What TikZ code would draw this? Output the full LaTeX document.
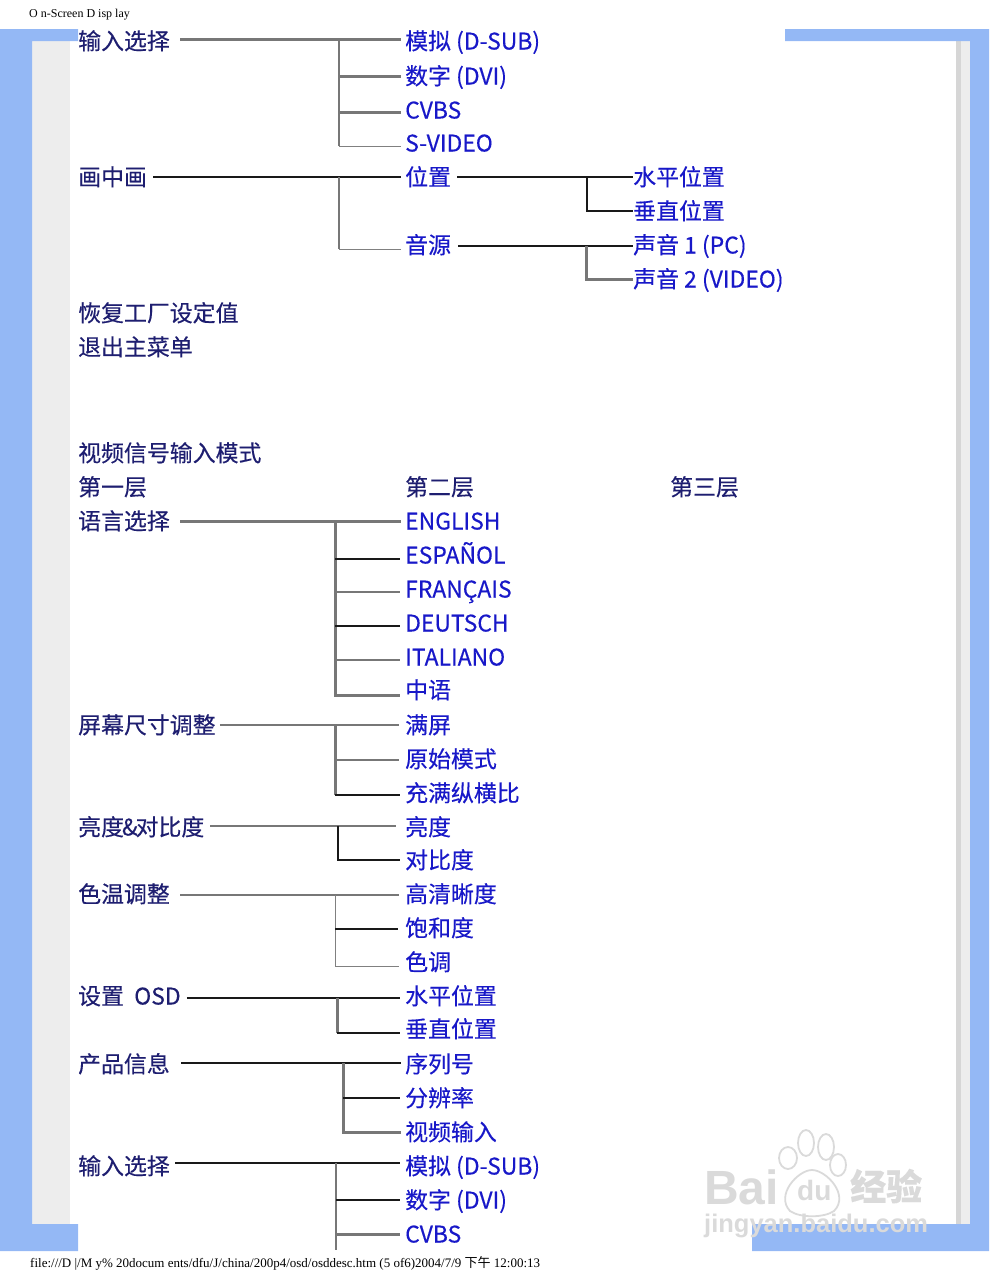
\documentclass[tikz,border=0pt]{standalone}
\usepackage{fontspec}
\setmainfont[FakeBold=0.35]{Noto Sans CJK SC}
\newfontfamily\pagefont{Liberation Serif}
\newfontfamily\cjkfoot{Noto Sans CJK SC}
\newfontfamily\markfont{Liberation Sans}
\definecolor{frameblue}{HTML}{94B8F5}
\definecolor{framegray}{HTML}{EDEDED}
\definecolor{edgegray}{HTML}{D6D6D6}
\definecolor{menunavy}{HTML}{1E1E70}
\definecolor{itemblue}{HTML}{1818C8}
\definecolor{linegray}{HTML}{777777}
\definecolor{markgray}{HTML}{DADADA}
\tikzset{
  menutxt/.style={anchor=west,inner xsep=0pt,inner ysep=0pt,text height=18pt,text depth=3pt,font=\fontsize{22.9}{24}\selectfont},
  toplevel/.style={menutxt,text=menunavy},
  item/.style={menutxt,text=itemblue},
  heavyln/.style={linegray,line width=3pt},
  midln/.style={linegray,line width=2.3pt},
  thinln/.style={gray,line width=1pt},
  blackln/.style={black!90,line width=1.3pt},
  pagetxt/.style={anchor=west,inner sep=0pt,font=\pagefont\fontsize{13}{14}\selectfont}
}
\begin{document}
\begin{tikzpicture}[x=1pt,y=-1pt]
  \useasboundingbox (0,0) rectangle (989,1280);
  % page frame
  \fill[framegray] (32,41) rectangle (70,1224);
  \fill[framegray] (961,41) rectangle (970,1224);
  \fill[edgegray] (956,41) rectangle (961,1224);
  \fill[frameblue] (0,29) -- (78,29) -- (78,41) -- (32,41) -- (32,1224) -- (78,1224) -- (78,1251) -- (0,1251) -- cycle;
  \fill[frameblue] (785,29) -- (989,29) -- (989,1251) -- (752,1251) -- (752,1224) -- (970,1224) -- (970,41) -- (785,41) -- cycle;
  \node[pagetxt,font=\pagefont\fontsize{12}{13}\selectfont] (pagehead) at (29,15) {O n-Screen D isp lay};
  \node[pagetxt] (pagefoot) at (30,1263) {file:///D |/M y\% 20docum ents/dfu/J/china/200p4/osd/osddesc.htm (5 of6)2004/7/9 {\cjkfoot 下午} 12:00:13};

  % first block
  \foreach \n/\x/\y/\t in {inputa/78/42/输入选择,pip/78/178/画中画,reset/78/314/恢复工厂设定值,quit/78/348/退出主菜单,
      vidmode/78/454/视频信号输入模式,laya/78/488/第一层,layb/405/488/第二层,layc/670/488/第三层,
      lang/78/522/语言选择,size/78/726/屏幕尺寸调整,bright/78/828/亮度\kern-2pt\&\kern-2pt对比度,temp/78/895/色温调整,
      osd/78/997/设置\ \ OSD,info/78/1065/产品信息,inputb/78/1167/输入选择}
    \node[toplevel] (\n) at (\x,\y) {\t};
  \foreach \n/\x/\y/\t in {dsuba/405/42/模拟 (D-SUB),dvia/405/77/数字 (DVI),cvbsa/405/111/CVBS,svideo/405/144/S-VIDEO,
      place/405/178/位置,source/405/246/音源,hpos/633/178/水平位置,vpos/633/212/垂直位置,
      sounda/633/246/声音 1 (PC),soundb/633/280/声音 2 (VIDEO),
      english/405/522/ENGLISH,spanish/405/556/ESPAÑOL,french/405/590/FRANÇAIS,german/405/624/DEUTSCH,
      italian/405/658/ITALIANO,chinese/405/691/中语,full/405/726/满屏,native/405/760/原始模式,fill/405/794/充满纵横比,
      lum/405/828/亮度,contrast/405/861/对比度,sharp/405/895/高清晰度,satur/405/929/饱和度,tone/405/963/色调,
      osdh/405/997/水平位置,osdv/405/1030/垂直位置,serial/405/1065/序列号,resol/405/1099/分辨率,vidin/405/1133/视频输入,
      dsubb/405/1167/模拟 (D-SUB),dvib/405/1201/数字 (DVI),cvbsb/405/1235/CVBS}
    \node[item] (\n) at (\x,\y) {\t};

  % input selection
  \draw[heavyln] ([xshift=10pt]inputa.east |- 0,39.5) -- ([xshift=-4pt]dsuba.west |- 0,39.5);
  \draw[midln] (339,39.5) -- (339,146);
  \draw[thinln] (339,146) -- ([xshift=-4pt]svideo.west |- 0,146);
  \draw[heavyln] (339,76) -- ([xshift=-4pt]dvia.west |- 0,76);
  \draw[heavyln] (339,112) -- ([xshift=-4pt]cvbsa.west |- 0,112);
  % picture in picture
  \draw[blackln] ([xshift=6pt]pip.east |- 0,177) -- ([xshift=-4pt]place.west |- 0,177);
  \draw[midln] (339,177) -- (339,249);
  \draw[thinln] (339,249) -- ([xshift=-4pt]source.west |- 0,249);
  \draw[blackln] ([xshift=6pt]place.east |- 0,177) -- (hpos.west |- 0,177);
  \draw[blackln] (587,177) |- (vpos.west |- 0,211);
  \draw[blackln] ([xshift=7pt]source.east |- 0,246) -- (sounda.west |- 0,246);
  \draw[heavyln] (586,246) |- (soundb.west |- 0,279);

  % language
  \draw[heavyln] ([xshift=10pt]lang.east |- 0,521.7) -- ([xshift=-4pt]english.west |- 0,521.7);
  \draw[heavyln] (335,521.7) -- (335,695) -- ([xshift=-5pt]chinese.west |- 0,695);
  \foreach \n/\y in {french/592,italian/660}
    \draw[midln] (335,\y) -- ([xshift=-5pt]\n.west |- 0,\y);
  \foreach \n/\y in {spanish/559,german/626}
    \draw[blackln] (335,\y) -- ([xshift=-5pt]\n.west |- 0,\y);
  % screen size
  \draw[midln] ([xshift=4pt]size.east |- 0,725) -- ([xshift=-6pt]full.west |- 0,725);
  \draw[heavyln] (335,725) -- (335,795);
  \draw[midln] (335,760) -- ([xshift=-6pt]native.west |- 0,760);
  \draw[blackln] (335,795) -- ([xshift=-5pt]fill.west |- 0,795);
  % brightness
  \draw[midln] ([xshift=6pt]bright.east |- 0,826) -- ([xshift=-9pt]lum.west |- 0,826);
  \draw[blackln] (338,826) -- (338,860) -- ([xshift=-5pt]contrast.west |- 0,860);
  % colour temperature
  \draw[midln] ([xshift=10pt]temp.east |- 0,895) -- ([xshift=-6pt]sharp.west |- 0,895);
  \draw[thinln] (335,895) -- (335,966) -- ([xshift=-6pt]tone.west |- 0,966);
  \draw[blackln] (335,929) -- ([xshift=-7pt]satur.west |- 0,929);
  % osd
  \draw[blackln] ([xshift=6pt]osd.east |- 0,998) -- ([xshift=-5pt]osdh.west |- 0,998);
  \draw[heavyln] (337,998) -- (337,1033);
  \draw[blackln] (337,1033) -- ([xshift=-5pt]osdv.west |- 0,1033);
  % product info
  \draw[blackln] ([xshift=11pt]info.east |- 0,1063) -- ([xshift=-4pt]serial.west |- 0,1063);
  \draw[heavyln] (343,1063) -- (343,1132) -- ([xshift=-4pt]vidin.west |- 0,1132);
  \draw[blackln] (343,1098) -- ([xshift=-5pt]resol.west |- 0,1098);
  % input selection, continued
  \draw[blackln] ([xshift=5pt]inputb.east |- 0,1163) -- ([xshift=-5pt]dsubb.west |- 0,1163);
  \draw[midln] (336,1163) -- (336,1250);
  \draw[blackln] (336,1200) -- ([xshift=-5pt]dvib.west |- 0,1200);
  \draw[heavyln] (336,1234) -- ([xshift=-5pt]cvbsb.west |- 0,1234);

  % watermark
  \begin{scope}[markgray,line width=1.8pt,fill=white]
    \foreach \x/\y/\rx/\ry in {788/1158/9/11,806/1143/8/13,826/1147/8/13,838/1165/8/11}
      \draw (\x,\y) ellipse [x radius=\rx pt,y radius=\ry pt];
    \draw (790,1211) .. controls (775,1195) and (798,1170) .. (812,1170) .. controls (826,1170) and (850,1195) .. (834,1211) .. controls (824,1218) and (800,1218) .. (790,1211) -- cycle;
  \end{scope}
  \node[anchor=west,inner sep=0pt,text=markgray,font=\markfont\bfseries\fontsize{48}{50}\selectfont] (markbai) at (704,1187) {Bai};
  \node[anchor=west,inner sep=0pt,text=markgray,font=\markfont\bfseries\fontsize{28}{30}\selectfont] (markdu) at (797,1190) {du};
  \node[anchor=west,inner sep=0pt,text=markgray,font=\fontsize{36}{38}\selectfont\bfseries] (markexp) at (850,1186) {经验};
  \node[anchor=west,inner sep=0pt,text=markgray,font=\markfont\bfseries\fontsize{25.5}{28}\selectfont] (markurl) at (704,1226) {jingyan.baidu.com};
\end{tikzpicture}
\end{document}
